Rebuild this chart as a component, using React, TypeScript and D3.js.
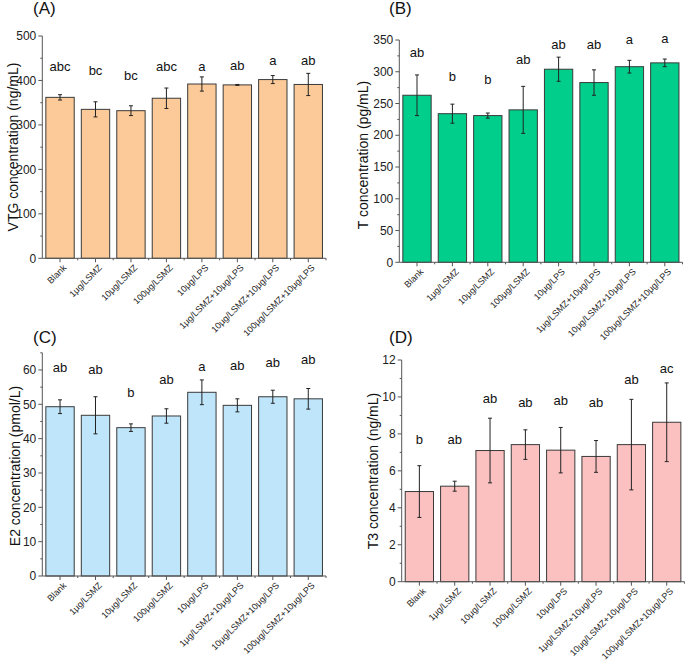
import React from "react";
import * as d3 from "d3";

const groups = [
  "Blank",
  "1μg/LSMZ",
  "10μg/LSMZ",
  "100μg/LSMZ",
  "10μg/LPS",
  "1μg/LSMZ+10μg/LPS",
  "10μg/LSMZ+10μg/LPS",
  "100μg/LSMZ+10μg/LPS",
];

const vtgMean = [362, 335, 332, 360, 392, 390, 402, 391];
const vtgSd = [6, 17, 11, 23, 16, 1, 9, 25];
const vtgLetters = ["abc", "bc", "bc", "abc", "a", "ab", "a", "ab"];
const vtgLetterY = [421, 412, 401, 421, 421, 423, 434, 435];
const vtgTicks = [0, 100, 200, 300, 400, 500];

const tMean = [263, 234, 231, 240, 304, 283, 308, 314];
const tSd = [32, 15, 4, 37, 19, 20, 10, 6];
const tLetters = ["ab", "b", "b", "ab", "ab", "ab", "a", "a"];
const tLetterY = [324, 286, 280, 312, 336, 336, 343, 346];
const tTicks = [0, 50, 100, 150, 200, 250, 300, 350];

const e2Mean = [49.3, 46.8, 43.2, 46.6, 53.5, 49.7, 52.2, 51.6];
const e2Sd = [2.0, 5.4, 1.1, 2.1, 3.6, 1.9, 1.9, 3.0];
const e2Letters = ["ab", "ab", "b", "ab", "a", "ab", "ab", "ab"];
const e2LetterY = [59.5, 58.7, 52.2, 55.8, 59.7, 60, 61, 61.7];
const e2Ticks = [0, 10, 20, 30, 40, 50, 60];

const t3Mean = [4.88, 5.17, 7.1, 7.42, 7.12, 6.78, 7.42, 8.63];
const t3Sd = [1.4, 0.27, 1.75, 0.8, 1.23, 0.86, 2.45, 2.13];
const t3Letters = ["b", "ab", "ab", "ab", "ab", "ab", "ab", "ac"];
const t3LetterY = [7.44, 7.44, 9.69, 9.47, 9.56, 9.47, 10.68, 11.28];
const t3Ticks = [0, 2, 4, 6, 8, 10, 12];

const FONT = "'Liberation Sans', Arial, sans-serif";

type PanelProps = {
  tag: string;
  tagX: number;
  tagY: number;
  yLabel: string;
  yLabelX: number;
  yLabelY: number;
  x0: number;
  x1: number;
  yBottom: number;
  yTop: number;
  yMax: number;
  ticks: number[];
  minorStep: number;
  mean: number[];
  sd: number[];
  letters: string[];
  letterY: number[];
  color: string;
};

function Panel(p: PanelProps) {
  const x = d3
    .scaleBand<string>()
    .domain(groups)
    .range([p.x0, p.x1])
    .paddingInner(0.2)
    .paddingOuter(0.1);
  const y = d3.scaleLinear().domain([0, p.yMax]).range([p.yBottom, p.yTop]);
  const step = x.step();
  const minor = d3.range(0, p.yMax + 1e-9, p.minorStep).filter((v) => !p.ticks.includes(v));
  const axisColor = "#555";
  return (
    <g fontFamily={FONT}>
      <text x={p.tagX} y={p.tagY} fontSize={17} fill="#111">
        {p.tag}
      </text>
      <text
        transform={`translate(${p.yLabelX},${p.yLabelY}) rotate(-90)`}
        textAnchor="middle"
        fontSize={14}
        fill="#111"
      >
        {p.yLabel}
      </text>
      {groups.map((g, i) => (
        <rect
          key={g}
          x={x(g)!}
          y={y(p.mean[i])}
          width={x.bandwidth()}
          height={y(0) - y(p.mean[i])}
          fill={p.color}
          stroke="#3a3a3a"
          strokeWidth={1}
        />
      ))}
      {groups.map((g, i) => {
        const cx = x(g)! + x.bandwidth() / 2;
        const hi = y(p.mean[i] + p.sd[i]);
        const lo = y(p.mean[i] - p.sd[i]);
        return (
          <g key={g} stroke="#222" strokeWidth={1}>
            <line x1={cx} x2={cx} y1={hi} y2={lo} />
            <line x1={cx - 2} x2={cx + 2} y1={hi} y2={hi} />
            <line x1={cx - 2} x2={cx + 2} y1={lo} y2={lo} />
          </g>
        );
      })}
      {groups.map((g, i) => (
        <text
          key={g}
          x={x(g)! + x.bandwidth() / 2}
          y={y(p.letterY[i])}
          textAnchor="middle"
          fontSize={13}
          fill="#111"
        >
          {p.letters[i]}
        </text>
      ))}
      <line x1={p.x0} x2={p.x0} y1={y(0)} y2={y(p.yMax)} stroke={axisColor} strokeWidth={1} />
      {p.ticks.map((t) => (
        <g key={t}>
          <line x1={p.x0 - 4} x2={p.x0} y1={y(t)} y2={y(t)} stroke={axisColor} />
          <text x={p.x0 - 6} y={y(t)} dy="0.35em" textAnchor="end" fontSize={12} fill="#222">
            {t}
          </text>
        </g>
      ))}
      {minor.map((t) => (
        <line key={t} x1={p.x0 - 2} x2={p.x0} y1={y(t)} y2={y(t)} stroke={axisColor} />
      ))}
      <line x1={p.x0} x2={p.x1} y1={y(0)} y2={y(0)} stroke={axisColor} strokeWidth={1} />
      {groups.map((g, i) => {
        const cx = x(g)! + x.bandwidth() / 2;
        return (
          <g key={g}>
            <line x1={cx} x2={cx} y1={y(0)} y2={y(0) + 4} stroke={axisColor} />
            <line
              x1={p.x0 + step * (i + 1)}
              x2={p.x0 + step * (i + 1)}
              y1={y(0)}
              y2={y(0) + 2}
              stroke={axisColor}
            />
            <text
              transform={`translate(${cx + 7},${y(0) + 10}) rotate(-45)`}
              textAnchor="end"
              fontSize={9}
              fill="#222"
            >
              {g}
            </text>
          </g>
        );
      })}
    </g>
  );
}

export default function App() {
  return (
    <svg
      width={685}
      height={661}
      style={{ position: "absolute", left: 0, top: 0, background: "#fff" }}
    >
      <rect width={685} height={661} fill="#fff" />
      <Panel
        tag="(A)"
        tagX={33}
        tagY={14}
        yLabel="VTG concentration (ng/mL)"
        yLabelX={18}
        yLabelY={147}
        x0={42.3}
        x1={326}
        yBottom={258.3}
        yTop={36}
        yMax={500}
        ticks={vtgTicks}
        minorStep={50}
        mean={vtgMean}
        sd={vtgSd}
        letters={vtgLetters}
        letterY={vtgLetterY}
        color="#FBCA98"
      />
      <Panel
        tag="(B)"
        tagX={389}
        tagY={14}
        yLabel="T concentration (pg/mL)"
        yLabelX={368}
        yLabelY={155}
        x0={399.3}
        x1={682.5}
        yBottom={262.3}
        yTop={40}
        yMax={350}
        ticks={tTicks}
        minorStep={25}
        mean={tMean}
        sd={tSd}
        letters={tLetters}
        letterY={tLetterY}
        color="#00CE8A"
      />
      <Panel
        tag="(C)"
        tagX={33}
        tagY={343}
        yLabel="E2 concentration (pmol/L)"
        yLabelX={20}
        yLabelY={466}
        x0={42.3}
        x1={326}
        yBottom={576}
        yTop={352.8}
        yMax={65}
        ticks={e2Ticks}
        minorStep={5}
        mean={e2Mean}
        sd={e2Sd}
        letters={e2Letters}
        letterY={e2LetterY}
        color="#BEE5FA"
      />
      <Panel
        tag="(D)"
        tagX={389}
        tagY={343}
        yLabel="T3 concentration (ng/mL)"
        yLabelX={378}
        yLabelY={471}
        x0={401.7}
        x1={684.4}
        yBottom={581.7}
        yTop={360}
        yMax={12}
        ticks={t3Ticks}
        minorStep={1}
        mean={t3Mean}
        sd={t3Sd}
        letters={t3Letters}
        letterY={t3LetterY}
        color="#FBC0C0"
      />
    </svg>
  );
}
